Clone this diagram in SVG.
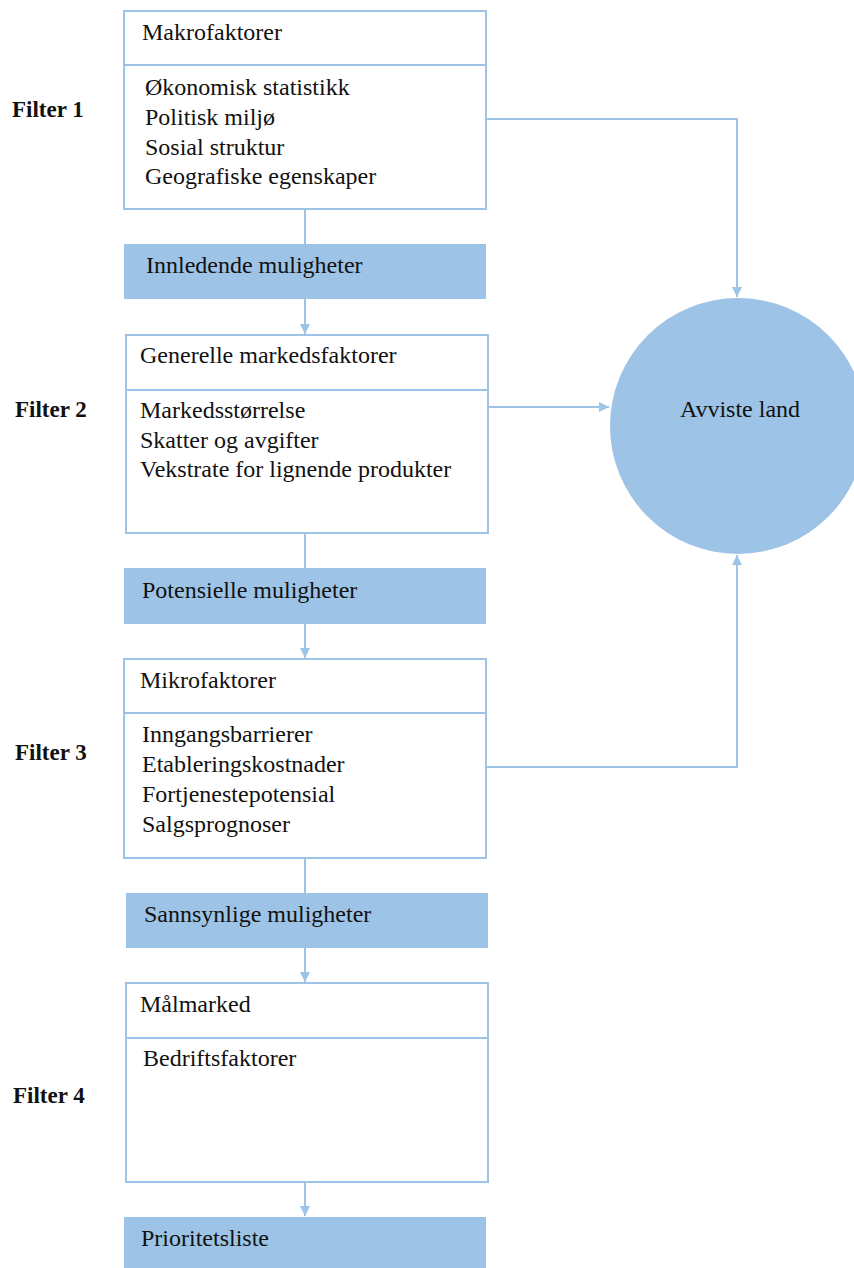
<svg xmlns="http://www.w3.org/2000/svg" width="854" height="1268" viewBox="0 0 854 1268">
<style>
.box{fill:#ffffff;stroke:#9dc3e6;stroke-width:2}
.bar{fill:#9dc3e6;stroke:none}
.div{stroke:#9dc3e6;stroke-width:2}
.con{fill:none;stroke:#9dc3e6;stroke-width:2}
.t{font-family:"Liberation Serif","Times New Roman",serif;font-size:24px;fill:#111111}
.f{font-family:"Liberation Serif","Times New Roman",serif;font-size:23px;font-weight:bold;fill:#111111}
</style>
<defs>
<marker id="ah" viewBox="0 0 10 10" refX="10" refY="5" markerWidth="5" markerHeight="5" orient="auto" markerUnits="strokeWidth">
<path d="M0,0 L10,5 L0,10 z" fill="#9dc3e6"/>
</marker>
</defs>
<rect width="854" height="1268" fill="#ffffff"/>
<g id="labels">
<text class="f" x="12" y="117">Filter 1</text>
<text class="f" x="15" y="417">Filter 2</text>
<text class="f" x="15" y="760">Filter 3</text>
<text class="f" x="13" y="1103">Filter 4</text>
</g>
<g id="connectors">
<line class="con" x1="305" y1="209" x2="305" y2="244"/>
<line class="con" x1="305" y1="299" x2="305" y2="334" marker-end="url(#ah)"/>
<line class="con" x1="305" y1="533" x2="305" y2="568"/>
<line class="con" x1="305" y1="624" x2="305" y2="658" marker-end="url(#ah)"/>
<line class="con" x1="305" y1="858" x2="305" y2="893"/>
<line class="con" x1="305" y1="948" x2="305" y2="982" marker-end="url(#ah)"/>
<line class="con" x1="305" y1="1182" x2="305" y2="1216" marker-end="url(#ah)"/>
<polyline class="con" points="486,119 737,119 737,297" marker-end="url(#ah)"/>
<line class="con" x1="488" y1="407" x2="609" y2="407" marker-end="url(#ah)"/>
<polyline class="con" points="486,767 737,767 737,555" marker-end="url(#ah)"/>
</g>
<g id="makrofaktorer">
<rect class="box" x="124" y="11" width="362" height="198"/>
<line class="div" x1="124" y1="65" x2="486" y2="65"/>
<text class="t" x="142" y="40">Makrofaktorer</text>
<text class="t" x="145" y="95">Økonomisk statistikk</text>
<text class="t" x="145" y="125">Politisk miljø</text>
<text class="t" x="145" y="155">Sosial struktur</text>
<text class="t" x="145" y="184">Geografiske egenskaper</text>
</g>
<g id="innledende">
<rect class="bar" x="124" y="244" width="362" height="55"/>
<text class="t" x="146" y="273">Innledende muligheter</text>
</g>
<g id="generelle">
<rect class="box" x="126" y="335" width="362" height="198"/>
<line class="div" x1="126" y1="390" x2="488" y2="390"/>
<text class="t" x="140" y="363">Generelle markedsfaktorer</text>
<text class="t" x="140" y="418">Markedsstørrelse</text>
<text class="t" x="140" y="448">Skatter og avgifter</text>
<text class="t" x="140" y="477">Vekstrate for lignende produkter</text>
</g>
<g id="potensielle">
<rect class="bar" x="124" y="568" width="362" height="56"/>
<text class="t" x="142" y="598">Potensielle muligheter</text>
</g>
<g id="mikrofaktorer">
<rect class="box" x="124" y="659" width="362" height="199"/>
<line class="div" x1="124" y1="713" x2="486" y2="713"/>
<text class="t" x="140" y="688">Mikrofaktorer</text>
<text class="t" x="142" y="742">Inngangsbarrierer</text>
<text class="t" x="142" y="772">Etableringskostnader</text>
<text class="t" x="142" y="802">Fortjenestepotensial</text>
<text class="t" x="142" y="832">Salgsprognoser</text>
</g>
<g id="sannsynlige">
<rect class="bar" x="126" y="893" width="362" height="55"/>
<text class="t" x="144" y="922">Sannsynlige muligheter</text>
</g>
<g id="malmarked">
<rect class="box" x="126" y="983" width="362" height="199"/>
<line class="div" x1="126" y1="1038" x2="488" y2="1038"/>
<text class="t" x="140" y="1012">Målmarked</text>
<text class="t" x="143" y="1066">Bedriftsfaktorer</text>
</g>
<g id="prioritetsliste">
<rect class="bar" x="124" y="1217" width="362" height="51"/>
<text class="t" x="141" y="1246">Prioritetsliste</text>
</g>
<g id="avviste">
<circle cx="738" cy="426" r="128" fill="#9dc3e6"/>
<text class="t" x="740" y="417" text-anchor="middle">Avviste land</text>
</g>
</svg>
